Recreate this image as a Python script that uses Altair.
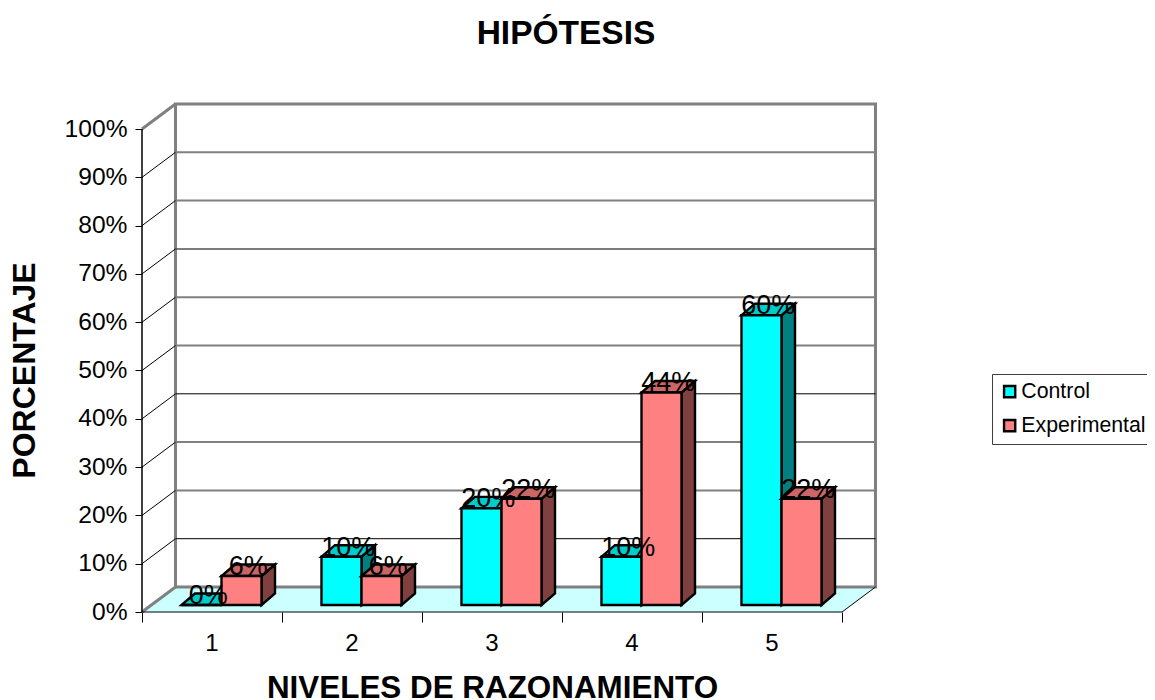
import altair as alt
import pandas as pd

CATEGORIES = [1, 2, 3, 4, 5]
CONTROL = [0, 10, 20, 10, 60]
EXPERIMENTAL = [6, 6, 22, 44, 22]
Y_TICKS = list(range(0, 101, 10))
X_TICKS = [0, 1, 2, 3, 4, 5]
GRID_GREY = [20, 30, 50, 60, 80, 90]
GRID_DARK = [70]
GRID_BLACK = [10, 40]

FONT = "Liberation Sans"
PX_X = 140.0      # pixels per category
PX_Y = 4.83       # pixels per percent
WALL_DX = 33.5 / PX_X
WALL_DY = 25.0 / PX_Y
BAR_W = 40.0 / PX_X
BAR_DX = 13.5 / PX_X
BAR_DY = 11.5 / PX_Y
BASE_DX = 9.5 / PX_X
BASE_DY = 7.0 / PX_Y
PLOT_W = 734
PLOT_H = 509

xs = alt.Scale(domain=[0, PLOT_W / PX_X], range=[0, PLOT_W], nice=False, zero=False)
ys = alt.Scale(domain=[0, PLOT_H / PX_Y], range=[PLOT_H, 0], nice=False, zero=False)

x_axis = alt.Axis(values=X_TICKS, labels=False, domain=False, grid=False, tickColor="black",
                  tickSize=10, tickWidth=1, titleFont=FONT, titleFontSize=31.4, titleFontWeight="bold",
                  titleColor="black", titleX=350, titleY=85, titleBaseline="alphabetic",
                  titleAnchor="middle", titleAlign="center")
y_axis = alt.Axis(values=Y_TICKS, labelExpr="datum.value + '%'", domain=False, grid=False,
                  tickColor="black", tickSize=7, tickWidth=1, labelFont=FONT, labelFontSize=24.6,
                  labelColor="black", labelPadding=8, titleFont=FONT, titleFontSize=32,
                  titleFontWeight="bold", titleColor="black", titleX=-101, titleY=267,
                  titleAnchor="middle", titleAlign="center")


def X(f="x"):
    return alt.X(f"{f}:Q", scale=xs, axis=x_axis, title="NIVELES DE RAZONAMIENTO")


def Y(f="y"):
    return alt.Y(f"{f}:Q", scale=ys, axis=y_axis, title="PORCENTAJE")


def bar_frames(values, slot):
    front, side, top, label = [], [], [], []
    for c, v in zip(CATEGORIES, values):
        x0 = c - 0.5 + BASE_DX + (slot - 1) * BAR_W
        x1 = x0 + BAR_W
        y0 = BASE_DY
        yt = BASE_DY + v
        front.append(dict(x=x0, x2=x1, y=y0, y2=yt))
        side += [dict(id=c, x=x1, y=y0, y2=yt),
                 dict(id=c, x=x1 + BAR_DX, y=y0 + BAR_DY, y2=yt + BAR_DY)]
        top += [dict(id=c, y=yt, x=x0, x2=x1),
                dict(id=c, y=yt + BAR_DY, x=x0 + BAR_DX, x2=x1 + BAR_DX)]
        label.append(dict(x=(x0 + x1 + BAR_DX) / 2, y=yt, t=f"{v}%"))
    return [pd.DataFrame(f) for f in (front, side, top, label)]


def bar_layers(values, slot, name, side_col, top_col):
    front, side, top, label = bar_frames(values, slot)
    front["series"] = name
    st = dict(stroke="black", strokeWidth=2.4, strokeJoin="miter")
    return [
        alt.Chart(side).mark_area(fill=side_col, **st).encode(X(), Y(), y2="y2:Q", detail="id:N"),
        alt.Chart(top).mark_area(fill=top_col, orient="horizontal", **st).encode(X(), Y(), x2="x2:Q", detail="id:N"),
        alt.Chart(front).mark_rect(**st).encode(
            X(), x2="x2:Q", y=Y(), y2="y2:Q",
            fill=alt.Fill("series:N",
                          scale=alt.Scale(domain=["Control", "Experimental"], range=["#00FFFF", "#FF8080"]),
                          legend=alt.Legend(title=None, orient="none", legendX=850, legendY=271,
                                            symbolType="square", symbolSize=125, symbolStrokeColor="black",
                                            symbolStrokeWidth=2.4, labelFont=FONT, labelFontSize=21.3, labelColor="black",
                                            fillColor="white", strokeColor="#404040", padding=7, rowPadding=11,
                                            labelOffset=1, labelLimit=200)),
        ),
    ]


# walls and floor
wall = pd.DataFrame([dict(x=WALL_DX, x2=WALL_DX + 5, y=WALL_DY, y2=WALL_DY + 100)])
floor = pd.DataFrame([dict(y=0, x=0, x2=5), dict(y=WALL_DY, x=WALL_DX, x2=WALL_DX + 5)])


def grid_frame(vals):
    return pd.DataFrame([dict(x=WALL_DX, x2=WALL_DX + 5, y=v + WALL_DY) for v in vals])


side_lines = pd.DataFrame([dict(x=0, x2=WALL_DX, y=v, y2=v + WALL_DY) for v in Y_TICKS[1:-1]])
edge_grey = pd.DataFrame([dict(x=0, x2=WALL_DX, y=0, y2=WALL_DY), dict(x=0, x2=WALL_DX, y=100, y2=100 + WALL_DY)])
edge_black = pd.DataFrame([dict(x=5, x2=5 + WALL_DX, y=0, y2=WALL_DY)])
y_line = pd.DataFrame([dict(x=0, y=0, y2=100)])
x_line = pd.DataFrame([dict(y=0, x=0, x2=5)])
cat_labels = pd.DataFrame([dict(x=c - 0.5, y=0, t=str(c)) for c in CATEGORIES])
ctrl_labels = bar_frames(CONTROL, 0)[3]
exp_labels = bar_frames(EXPERIMENTAL, 1)[3]

layers = [
    alt.Chart(floor).mark_area(fill="#CCFFFF", orient="horizontal").encode(X(), Y(), x2="x2:Q"),
    alt.Chart(wall).mark_rect(fill="white", stroke="#808080", strokeWidth=3).encode(X(), x2="x2:Q", y=Y(), y2="y2:Q"),
    alt.Chart(grid_frame(GRID_GREY)).mark_rule(color="#808080", strokeWidth=2).encode(X(), x2="x2:Q", y=Y()),
    alt.Chart(grid_frame(GRID_DARK)).mark_rule(color="#505050", strokeWidth=1.5).encode(X(), x2="x2:Q", y=Y()),
    alt.Chart(grid_frame(GRID_BLACK)).mark_rule(color="black", strokeWidth=1).encode(X(), x2="x2:Q", y=Y()),
    alt.Chart(side_lines).mark_rule(color="black", strokeWidth=1).encode(X(), x2="x2:Q", y=Y(), y2="y2:Q"),
    alt.Chart(edge_grey).mark_rule(color="#808080", strokeWidth=3).encode(X(), x2="x2:Q", y=Y(), y2="y2:Q"),
    alt.Chart(edge_black).mark_rule(color="black", strokeWidth=1).encode(X(), x2="x2:Q", y=Y(), y2="y2:Q"),
    alt.Chart(y_line).mark_rule(color="black", strokeWidth=1.5).encode(X(), y=Y(), y2="y2:Q"),
    alt.Chart(x_line).mark_rule(color="black", strokeWidth=1).encode(X(), x2="x2:Q", y=Y()),
]
layers += bar_layers(CONTROL, 0, "Control", "#008080", "#00CCCC")
layers += bar_layers(EXPERIMENTAL, 1, "Experimental", "#804040", "#CC6666")
label_style = dict(font=FONT, fontSize=27, color="black", align="center", baseline="alphabetic")
layers += [
    alt.Chart(ctrl_labels).mark_text(dy=-1, **label_style).encode(X(), Y(), text="t:N"),
    alt.Chart(exp_labels).mark_text(dy=-1, **label_style).encode(X(), Y(), text="t:N"),
    alt.Chart(cat_labels).mark_text(dy=39, **{**label_style, "fontSize": 24}).encode(X(), Y(), text="t:N"),
]

chart = alt.layer(*layers).properties(
    width=PLOT_W, height=PLOT_H,
    background="white",
    autosize=alt.AutoSizeParams(type="none"),
    padding={"left": 134, "top": 95, "right": 271, "bottom": 88},
    title=alt.TitleParams("HIPÓTESIS", font=FONT, fontSize=33.5, fontWeight="bold", color="black",
                          anchor="middle", dx=57, offset=51),
).configure_view(stroke=None)

chart.save("out.html", embed_options={"renderer": "svg", "actions": False})
